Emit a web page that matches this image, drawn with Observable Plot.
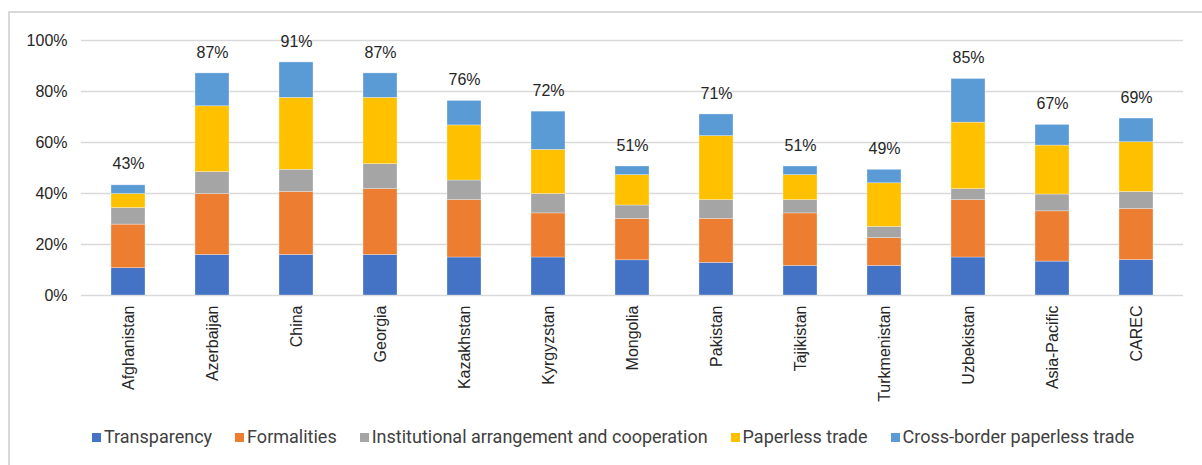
<!DOCTYPE html>
<html>
<head>
<meta charset="utf-8">
<script src="https://cdn.jsdelivr.net/npm/d3@7"></script>
<script src="https://cdn.jsdelivr.net/npm/@observablehq/plot@0.6"></script>
<style>
  html, body { margin: 0; padding: 0; width: 1202px; height: 465px; overflow: hidden; background: #fff; }
  #frame { position: absolute; left: 8px; top: 11px; width: 1210px; height: 470px; border-left: 2px solid #d9d9d9; border-top: 2px solid #d9d9d9; }
  #chart { position: absolute; left: 0; top: 0; }
  #chart svg, #chart svg text { font-family: "Liberation Sans", Arial, sans-serif !important; }
  #legend { position: absolute; top: 426px; left: 92px; display: flex; align-items: center; font-family: Roboto, "Noto Sans", sans-serif; font-size: 18px; line-height: 22px; color: #404040; white-space: nowrap; }
  .item { display: flex; align-items: center; margin-right: 23px; }
  .sw { width: 9px; height: 9px; margin-right: 3px; }
</style>
</head>
<body>
<div id="frame"></div>
<div id="chart"></div>
<div id="legend"></div>
<script>
const countries = ["Afghanistan", "Azerbaijan", "China", "Georgia", "Kazakhstan", "Kyrgyzstan", "Mongolia", "Pakistan", "Tajikistan", "Turkmenistan", "Uzbekistan", "Asia-Pacific", "CAREC"];
const seriesNames = ["Transparency", "Formalities", "Institutional arrangement and cooperation", "Paperless trade", "Cross-border paperless trade"];
const seriesColors = ["#4472C4", "#ED7D31", "#A5A5A5", "#FFC000", "#5B9BD5"];
const transparency  = [10.7, 15.9, 15.9, 15.9, 14.9, 14.9, 13.8, 12.8, 11.6, 11.6, 14.9, 13.3, 13.9];
const formalities   = [17.1, 23.9, 24.7, 25.8, 22.5, 17.3, 16.2, 17.2, 20.6, 10.9, 22.5, 19.7, 20.0];
const institutional = [6.5, 8.6, 8.7, 9.8, 7.7, 7.6, 5.3, 7.4, 5.2, 4.4, 4.3, 6.6, 6.7];
const paperless     = [5.5, 25.8, 28.2, 26.0, 21.6, 17.3, 11.9, 25.1, 9.8, 17.1, 26.1, 19.2, 19.5];
const crossBorder   = [3.4, 12.9, 13.9, 9.6, 9.6, 15.0, 3.4, 8.5, 3.4, 5.3, 17.1, 8.1, 9.3];
const yTicks = [0, 20, 40, 60, 80, 100];

const seriesValues = [transparency, formalities, institutional, paperless, crossBorder];
const rows = [];
seriesNames.forEach((s, si) => {
  countries.forEach((c, ci) => rows.push({country: c, series: s, value: seriesValues[si][ci]}));
});
const totals = countries.map((c, ci) => ({country: c, total: seriesValues.reduce((a, arr) => a + arr[ci], 0)}));

const chart = Plot.plot({
  width: 1202,
  height: 425,
  marginTop: 40,
  marginBottom: 130,
  marginLeft: 81,
  marginRight: 19,
  style: {fontFamily: "'Liberation Sans', Arial, sans-serif", fontSize: "16px", color: "#262626", background: "transparent"},
  x: {domain: countries, paddingInner: 0.6, paddingOuter: 0.3, label: null},
  y: {domain: [0, 100], label: null},
  color: {domain: seriesNames, range: seriesColors},
  marks: [
    Plot.gridY(yTicks, {stroke: "#d9d9d9", strokeOpacity: 1, strokeWidth: 1.5}),
    Plot.barY(rows, {x: "country", y: "value", fill: "series", stroke: "#ffffff", strokeWidth: 0.6, strokeOpacity: 0.5}),
    Plot.text(totals, {x: "country", y: "total", text: d => Math.round(d.total) + "%", dy: -21, fontSize: 16, fill: "#262626"}),
    Plot.axisY(yTicks, {tickSize: 0, tickPadding: 14, tickFormat: d => d + "%", fontSize: 16, fill: "#262626"}),
    Plot.axisX({tickSize: 0, tickRotate: -90, tickPadding: 10, fontSize: 16, fill: "#262626"})
  ]
});
document.getElementById("chart").appendChild(chart);

const legend = document.getElementById("legend");
seriesNames.forEach((s, i) => {
  const item = document.createElement("div");
  item.className = "item";
  const sw = document.createElement("span");
  sw.className = "sw";
  sw.style.background = seriesColors[i];
  const t = document.createElement("span");
  t.textContent = s;
  item.appendChild(sw);
  item.appendChild(t);
  legend.appendChild(item);
});
</script>
</body>
</html>
